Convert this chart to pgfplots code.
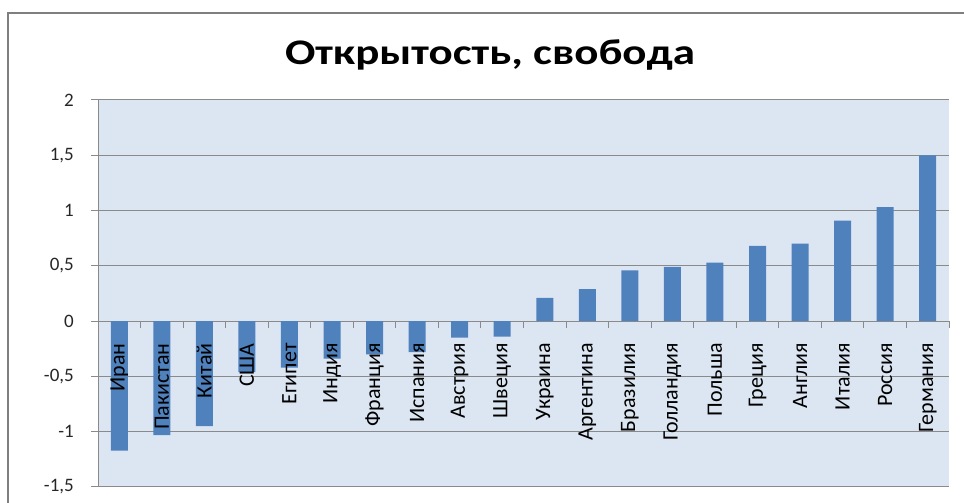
\documentclass[border=0pt]{standalone}
\usepackage{pgfplots}
\pgfplotsset{compat=1.18}
\usepackage{fontspec}
\setmainfont{Carlito}
\definecolor{barblue}{HTML}{4F81BD}
\definecolor{plotbg}{HTML}{DCE6F2}
\definecolor{gridgray}{HTML}{8A8A8A}
\definecolor{framegray}{HTML}{7F7F7F}
\pgfplotsset{
  layers/labelsontop/.define layer set={
    axis background,axis grid,axis ticks,axis lines,main,axis tick labels,axis descriptions,axis foreground
  }{
    grid style={/pgfplots/on layer=axis grid},
    tick style={/pgfplots/on layer=axis ticks},
    axis line style={/pgfplots/on layer=axis lines},
    label style={/pgfplots/on layer=axis descriptions},
    legend style={/pgfplots/on layer=axis descriptions},
    title style={/pgfplots/on layer=axis descriptions},
    ticklabel style={/pgfplots/on layer=axis tick labels},
    axis background@ style={/pgfplots/on layer=axis background},
  },
}
\begin{document}
\begin{tikzpicture}
\begin{axis}[
  set layers=labelsontop,
  at={(98pt,16pt)}, anchor=south west,
  scale only axis, width=851pt, height=387pt,
  xmin=-0.5, xmax=19.5, ymin=-1.5, ymax=2,
  axis y line*=left, axis x line*=middle,
  axis line style={gridgray, line width=1pt},
  axis background/.style={fill=plotbg},
  ytick={-1.5,-1,-0.5,0,0.5,1,1.5,2},
  ymajorgrids, grid style={gridgray, line width=1pt},
  tick align=outside, major tick length=7pt,
  tick style={gridgray, line width=1pt},
  xtick={-0.5,0.5,...,19.5}, xticklabels={},
  extra x ticks={0,1,...,19},
  extra x tick labels={Иран,Пакистан,Китай,США,Египет,Индия,Франция,Испания,Австрия,Швеция,Украина,Аргентина,Бразилия,Голландия,Польша,Греция,Англия,Италия,Россия,Германия},
  extra x tick style={major tick length=0pt, tick style={draw=none},
    tick label style={rotate=90, anchor=east, inner sep=0pt, font=\fontsize{22}{22}\selectfont}},
  xticklabel shift=22pt,
  yticklabel style={font=\fontsize{19}{19}\selectfont, text=black!85, inner sep=0pt},
  yticklabel shift=17pt,
  /pgf/number format/use comma,
  /pgf/number format/assume math mode=true,
  clip=false,
]
\addplot[ybar, bar width=17pt, fill=barblue, draw=none] coordinates {
(0,-1.17) (1,-1.03) (2,-0.95) (3,-0.46) (4,-0.42) (5,-0.34) (6,-0.30) (7,-0.28) (8,-0.15) (9,-0.14)
(10,0.21) (11,0.29) (12,0.46) (13,0.49) (14,0.53) (15,0.68) (16,0.70) (17,0.91) (18,1.03) (19,1.50)
};
\end{axis}
\draw[framegray, line width=2pt] (8pt,-10pt) -- (8pt,490pt) -- (980pt,490pt);
\node[font=\fontsize{36}{36}\selectfont\bfseries, xscale=1.25] at (490pt,447.5pt) {Открытость, свобода};
\pgfresetboundingbox
\useasboundingbox (0,0) rectangle (964pt,503pt);
\end{tikzpicture}
\end{document}
